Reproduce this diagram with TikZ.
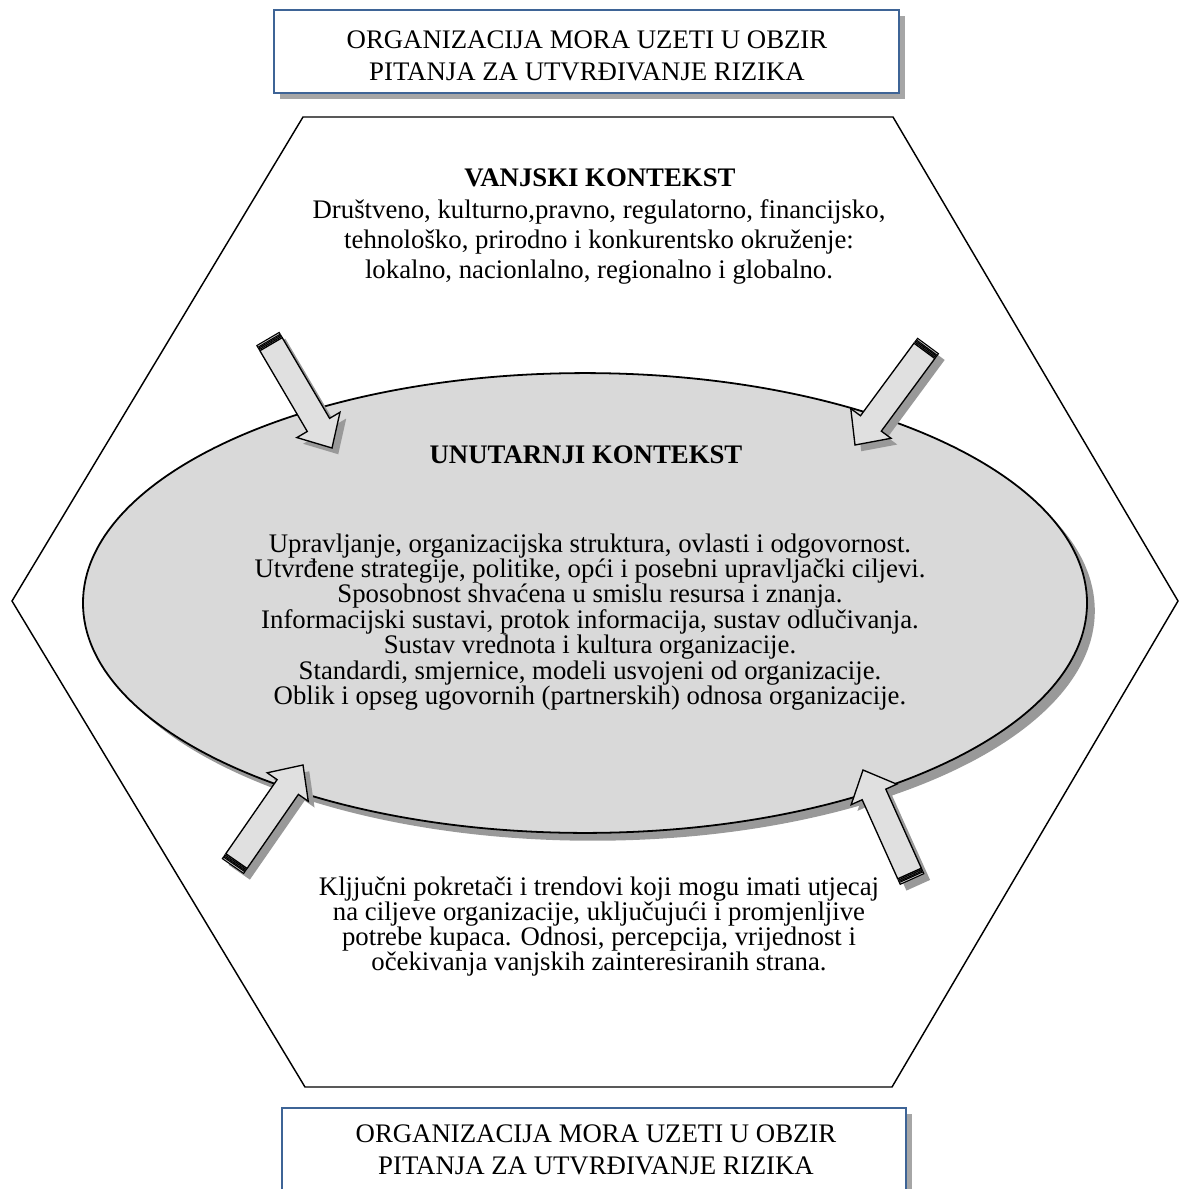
\documentclass[tikz,border=0pt]{standalone}
\usepackage{fontspec}
\setmainfont{Liberation Serif}
\usetikzlibrary{calc,shadows,shapes.geometric}

\definecolor{boxblue}{RGB}{62,100,150}

% block arrow with striped tail, from #1 (tail) to #2 (tip)
\newcommand{\kontarrow}[2]{%
  \coordinate (ks) at ($(#1)!2.7pt!(#2)$);
  \coordinate (kb) at ($(#2)!12pt!(#1)$);
  \coordinate (k1) at ($(#1)!0.9pt!(#2)$);
  \coordinate (k2) at ($(#1)!1.4pt!(#2)$);
  \coordinate (k3) at ($(#1)!2.1pt!(#2)$);
  \fill[black!40, transform canvas={shift={(2.8pt,-2.8pt)}}]
    ($(#1)!5.8pt!90:(#2)$) -- ($(kb)!5.8pt!90:(#2)$) -- ($(kb)!11.2pt!90:(#2)$)
    -- (#2) -- ($(kb)!11.2pt!-90:(#2)$) -- ($(kb)!5.8pt!-90:(#2)$)
    -- ($(#1)!5.8pt!-90:(#2)$) -- cycle;
  \draw[fill=black!12, line width=0.6pt, line join=miter]
    ($(ks)!5.8pt!90:(#2)$) -- ($(kb)!5.8pt!90:(#2)$) -- ($(kb)!11.2pt!90:(#2)$)
    -- (#2) -- ($(kb)!11.2pt!-90:(#2)$) -- ($(kb)!5.8pt!-90:(#2)$)
    -- ($(ks)!5.8pt!-90:(#2)$) -- cycle;
  \draw[fill=black!12, line width=0.5pt]
    ($(#1)!5.8pt!90:(#2)$) -- ($(k1)!5.8pt!90:(#2)$) -- ($(k1)!5.8pt!-90:(#2)$)
    -- ($(#1)!5.8pt!-90:(#2)$) -- cycle;
  \draw[fill=black!12, line width=0.5pt]
    ($(k2)!5.8pt!90:(#2)$) -- ($(k3)!5.8pt!90:(#2)$) -- ($(k3)!5.8pt!-90:(#2)$)
    -- ($(k2)!5.8pt!-90:(#2)$) -- cycle;
}

\begin{document}
\begin{tikzpicture}[x=0.448pt, y=-0.448pt,
  kbox/.style={rectangle, draw=boxblue, line width=1pt, fill=white,
    minimum width=280pt,
    drop shadow={shadow xshift=2.7pt, shadow yshift=-2.7pt, fill=black!35, opacity=1}},
  ktext/.style={align=center, inner sep=0pt, font=\fontsize{12}{#1}\selectfont},
  ktext/.default=13.4,
  khead/.style={inner sep=0pt, font=\fontsize{12}{14}\selectfont\bfseries}]
\useasboundingbox (0,0) rectangle (1179,1189);

\node[kbox, minimum height=37.2pt] (topbox) at (586.5,51.5) {};
\node[ktext=14.3] (toptext) at (587,56) {ORGANIZACIJA MORA UZETI U OBZIR\\PITANJA ZA UTVRĐIVANJE RIZIKA};

\draw[line width=0.65pt] (303,117) -- (893,117) -- (1178,601) -- (892,1087)
  -- (305,1087) -- (12,601) -- cycle;

\node[ellipse, draw, fill=black!15, line width=0.8pt,
  minimum width=449.8pt, minimum height=206pt,
  drop shadow={shadow xshift=3.5pt, shadow yshift=-3.5pt, fill=black!40, opacity=1}]
  (inner) at (585,603) {};

\coordinate (a1t) at (268,339);
\coordinate (a1p) at (332,448);
\coordinate (a2t) at (928,346);
\coordinate (a2p) at (855,445);
\coordinate (a3t) at (233,866);
\coordinate (a3p) at (303,765);
\coordinate (a4t) at (912,879);
\coordinate (a4p) at (863,770);
\kontarrow{a1t}{a1p}
\kontarrow{a2t}{a2p}
\kontarrow{a3t}{a3p}
\kontarrow{a4t}{a4p}

\node[khead] (outerhead) at (600,178) {VANJSKI KONTEKST};
\node[ktext=13.4] (outertext) at (599,242) {Društveno, kulturno,pravno, regulatorno, financijsko,\\
  tehnološko, prirodno i konkurentsko okruženje:\\
  lokalno, nacionlalno, regionalno i globalno.};

\node[khead] (innerhead) at (586,455) {UNUTARNJI KONTEKST};
\node[ktext=11.4] (innertext) at (590,622) {Upravljanje, organizacijska struktura, ovlasti i odgovornost.\\
  Utvrđene strategije, politike, opći i posebni upravljački ciljevi.\\
  Sposobnost shvaćena u smislu resursa i znanja.\\
  Informacijski sustavi, protok informacija, sustav odlučivanja.\\
  Sustav vrednota i kultura organizacije.\\
  Standardi, smjernice, modeli usvojeni od organizacije.\\
  Oblik i opseg ugovornih (partnerskih) odnosa organizacije.};

\node[ktext=11.2] (drivers) at (599,927) {Kljjučni pokretači i trendovi koji mogu imati utjecaj\\
  na ciljeve organizacije, uključujući i promjenljive\\
  potrebe kupaca. Odnosi, percepcija, vrijednost i\\
  očekivanja vanjskih zainteresiranih strana.};

\node[kbox, minimum width=279.6pt, minimum height=60pt, anchor=north] (bottombox) at (594,1107) {};
\node[ktext=14.3] (bottomtext) at (596,1150) {ORGANIZACIJA MORA UZETI U OBZIR\\PITANJA ZA UTVRĐIVANJE RIZIKA};
\end{tikzpicture}
\end{document}
